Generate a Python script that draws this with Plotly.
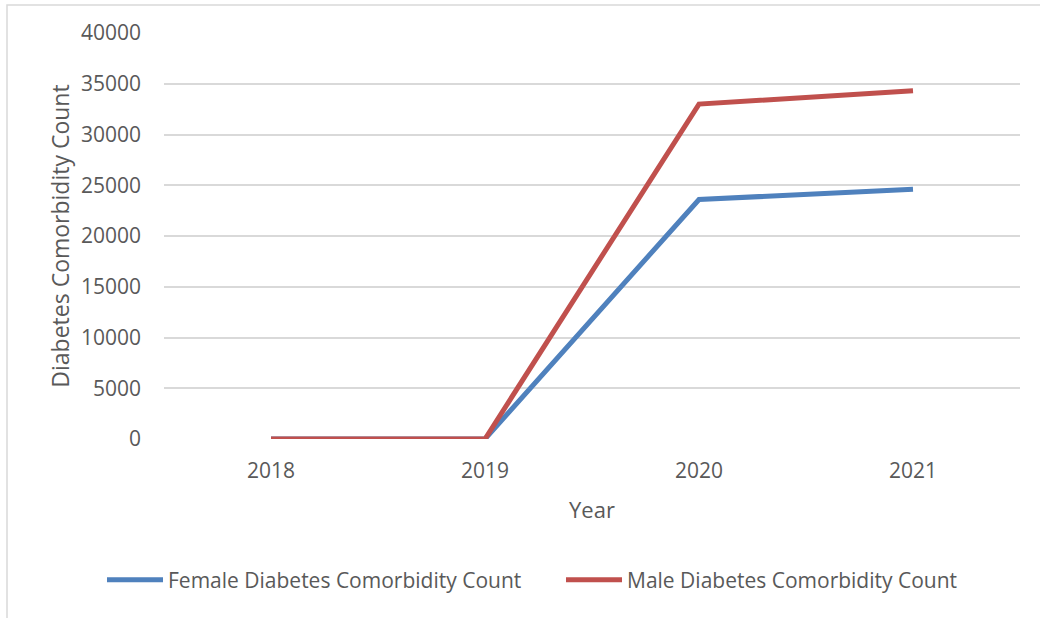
import plotly.graph_objects as go

# Yearly diabetes comorbidity counts by sex
years = ["2018", "2019", "2020", "2021"]
female_counts = [0, 0, 23600, 24600]
male_counts = [0, 0, 33000, 34300]

y_ticks = [0, 5000, 10000, 15000, 20000, 25000, 30000, 35000, 40000]
y_tick_labels = [str(v) for v in y_ticks]

FONT = "Open Sans, Liberation Sans, sans-serif"
TEXT_GREY = "#595959"
GRID_GREY = "#D9D9D9"

fig = go.Figure()
fig.add_trace(go.Scatter(
    x=years, y=female_counts, mode="lines",
    name="Female Diabetes Comorbidity Count",
    line=dict(color="#4F81BD", width=5),
))
fig.add_trace(go.Scatter(
    x=years, y=male_counts, mode="lines",
    name="Male Diabetes Comorbidity Count",
    line=dict(color="#C0504D", width=5),
))

# Light frame around the chart area (top and left edges visible)
fig.add_shape(
    type="rect", xref="paper", yref="paper",
    x0=(7 - 164) / 856, x1=1.1, y0=-0.6, y1=(439 - 5) / 406,
    line=dict(color=GRID_GREY, width=1.5), fillcolor="rgba(0,0,0,0)",
    layer="below",
)

fig.update_layout(
    width=1040, height=618,
    margin=dict(l=164, r=20, t=33, b=179, autoexpand=False),
    paper_bgcolor="white", plot_bgcolor="white",
    font=dict(family=FONT, size=21, color=TEXT_GREY),
    showlegend=True,
    legend=dict(
        orientation="h",
        x=(102 - 164) / 856, xanchor="left", y=(439 - 580) / 406, yanchor="middle",
        font=dict(family=FONT, size=21, color=TEXT_GREY),
        bgcolor="rgba(0,0,0,0)",
        itemwidth=56, entrywidth=388, entrywidthmode="pixels",
    ),
    xaxis=dict(
        type="category", range=[-0.5, 3.5],
        showgrid=False, zeroline=False, showline=False,
        ticks="", ticklabelstandoff=17,
        tickfont=dict(size=21),
        title=dict(text="Year", font=dict(size=22), standoff=19),
    ),
    yaxis=dict(
        range=[0, 40000], tickvals=y_ticks, ticktext=y_tick_labels,
        showgrid=True, gridcolor=GRID_GREY, gridwidth=1.5,
        zeroline=False, showline=False,
        ticks="", ticklabelstandoff=22,
        tickfont=dict(size=21),
        title=dict(text="Diabetes Comorbidity Count", font=dict(size=23), standoff=4),
    ),
)

fig.write_html("out.html")
